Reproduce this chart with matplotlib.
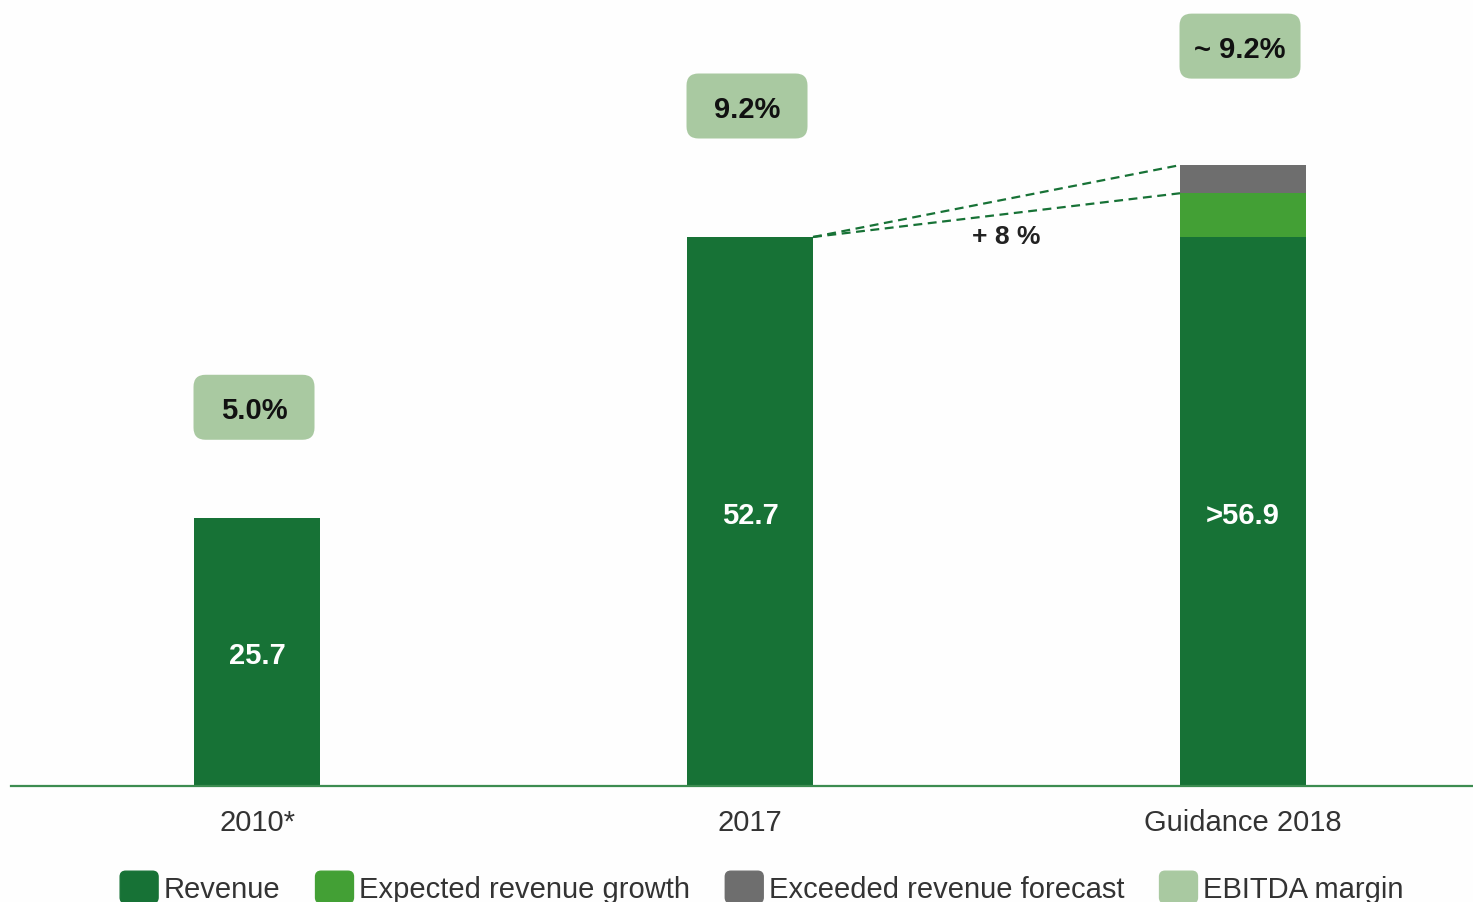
import numpy as np
import matplotlib
matplotlib.use('Agg')
import matplotlib.pyplot as plt
from matplotlib.patches import FancyBboxPatch, Patch
from matplotlib.transforms import ScaledTranslation
from matplotlib.legend_handler import HandlerPatch

plt.rcParams['font.family'] = ['Liberation Sans', 'DejaVu Sans']

# revenue figures
categories = ['2010*', '2017', 'Guidance 2018']
revenue = [25.7, 52.7, 52.7]
growth = [0.0, 0.0, 4.2]
exceeded = [0.0, 0.0, 2.7]
ebitda_labels = ['5.0%', '9.2%', '~ 9.2%']
growth_label = '+ 8 %'

c_rev = '#177236'
c_growth = '#43a035'
c_exceed = '#6e6e6e'
c_margin = '#a9c9a1'
c_text = '#333333'

fig = plt.figure(figsize=(14.73, 9.03), dpi=100)
fig.patch.set_facecolor('#fefefe')
ax = fig.add_axes([11 / 1473, 116 / 903, 1462 / 1473, 787 / 903])
ax.set_facecolor('#fefefe')

x = np.arange(len(categories))
w = 0.2556
rev = np.array(revenue)
gro = np.array(growth)
exc = np.array(exceeded)

ax.bar(x, rev, w, color=c_rev, zorder=2)
ax.bar(x, gro, w, bottom=rev, color=c_growth, zorder=2)
ax.bar(x, exc, w, bottom=rev + gro, color=c_exceed, zorder=2)

# values written inside the revenue bars
for i in range(len(x)):
    txt = '%.1f' % (rev[i] + gro[i])
    if gro[i] > 0:
        txt = '>' + txt
    ax.annotate(txt, (x[i], rev[i] / 2), xytext=(0, -3), textcoords='offset pixels',
                ha='center', va='center', color='white',
                fontsize=21, fontweight='bold', zorder=3)

# dashed guides from 2017 to the guidance bar
x0, x1 = x[1] + w / 2, x[2] - w / 2
for top in [rev[2] + gro[2], rev[2] + gro[2] + exc[2]]:
    ax.plot([x0, x1], [rev[1], top], ls=(0, (4, 2.5)), color=c_rev, lw=1.6, zorder=3)
ax.text(1.52, 52.8, growth_label, ha='center', va='center', fontsize=19,
        fontweight='bold', color='#222222')

# EBITDA margin boxes above each bar
box_rise = [1.11, 1.31, 1.19]  # inches above bar top
for i in range(len(x)):
    top = rev[i] + gro[i] + exc[i]
    tr = fig.dpi_scale_trans + ScaledTranslation(x[i], top, ax.transData)
    cx, cy = -0.03, box_rise[i]
    box = FancyBboxPatch((cx - 0.605, cy - 0.325), 1.21, 0.65,
                         boxstyle='round,pad=0,rounding_size=0.12',
                         transform=tr, facecolor=c_margin, edgecolor='none',
                         clip_on=False, zorder=3)
    ax.add_patch(box)
    ax.text(cx, cy - 0.03, ebitda_labels[i], transform=tr, ha='center', va='center',
            fontsize=21, fontweight='bold', color='#111111', zorder=4)

ax.set_xlim(-0.499, 2.4665)
ax.set_ylim(0, 787 / (549 / 52.7))
for s in ['left', 'right', 'top']:
    ax.spines[s].set_visible(False)
ax.spines['bottom'].set_color('#3c8c50')
ax.spines['bottom'].set_linewidth(1.6)
ax.set_yticks([])
ax.set_xticks(x)
ax.set_xticklabels(categories, fontsize=21, color=c_text)
ax.tick_params(axis='x', length=0, pad=16)


def rounded_swatch(legend, orig_handle, xdescent, ydescent, width, height, fontsize):
    return FancyBboxPatch((-xdescent, -ydescent), width, height,
                          boxstyle='round,pad=0,rounding_size=4')


handles = [Patch(color=c) for c in [c_rev, c_growth, c_exceed, c_margin]]
labels = ['Revenue', 'Expected revenue growth', 'Exceeded revenue forecast', 'EBITDA margin']
leg = fig.legend(handles, labels, loc='center', bbox_to_anchor=(0.5173, 0.0165),
                 ncol=4, frameon=False, fontsize=21, handlelength=1.3, handleheight=1.3,
                 handletextpad=0.2, columnspacing=1.2, borderpad=0,
                 handler_map={Patch: HandlerPatch(patch_func=rounded_swatch)})
for t in leg.get_texts():
    t.set_color(c_text)

fig.savefig('out.png', dpi=100, facecolor=fig.get_facecolor())
